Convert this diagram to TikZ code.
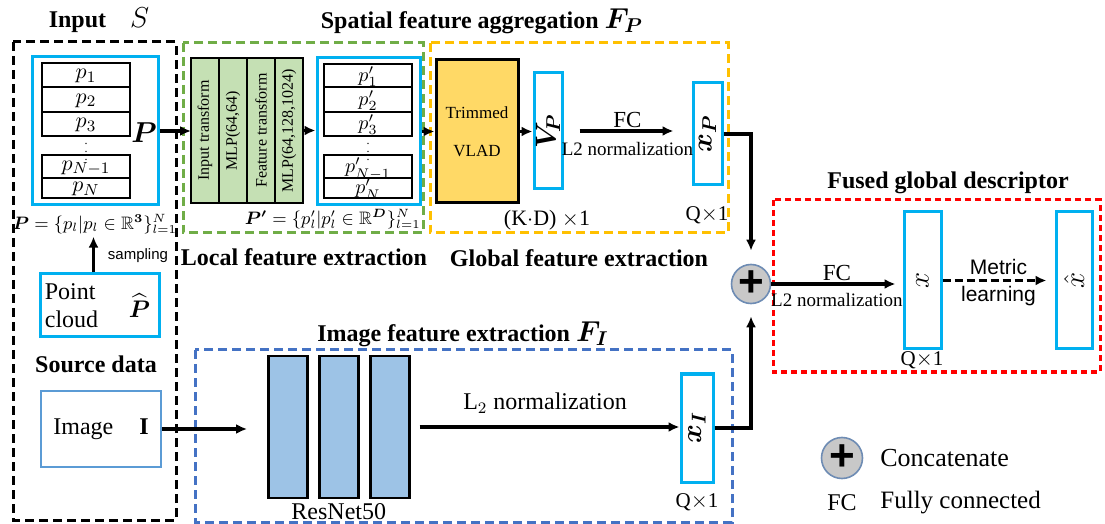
\documentclass[tikz,border=0pt]{standalone}
\usepackage{amsmath}
\usepackage{amssymb}
\usepackage{graphicx}
\usepackage{fontspec}
\setmainfont{Liberation Serif}
\setsansfont{Liberation Sans}
\usepackage{tikz}
\usetikzlibrary{arrows.meta, positioning}
\definecolor{mycyan}{RGB}{0,176,240}
\definecolor{mygreen}{RGB}{112,173,71}
\definecolor{mygreenfill}{RGB}{197,224,180}
\definecolor{myyellow}{RGB}{255,192,0}
\definecolor{myyellowfill}{RGB}{255,217,102}
\definecolor{myblue}{RGB}{68,114,196}
\definecolor{mybluefill}{RGB}{157,195,230}
\definecolor{mysteel}{RGB}{91,155,213}
\definecolor{myred}{RGB}{255,0,0}
\definecolor{mygray}{RGB}{200,200,200}
\definecolor{myring}{RGB}{110,140,180}

\tikzset{
  region/.style={line width=1.5pt, dash pattern=on 4.5pt off 2.5pt},
  vecbox/.style={draw=mycyan, line width=1.5pt, inner sep=0pt},
  cell/.style={draw, line width=1pt, minimum width=44pt, inner sep=0pt, outer sep=0pt, text height=6pt, text depth=2pt, font=\fontsize{11}{11}\selectfont},
  pcell/.style={cell, text height=7.5pt, text depth=1.5pt, font=\fontsize{10}{10}\selectfont},
  mlp/.style={draw, line width=1.3pt, fill=mygreenfill, minimum width=14pt, minimum height=72.5pt, inner sep=0pt, outer sep=0pt, font=\fontsize{8}{8}\selectfont},
  resblock/.style={draw, line width=1.4pt, fill=mybluefill, minimum width=19.5pt, minimum height=71pt, inner sep=0pt},
  flow/.style={-{Latex[length=5.5pt,width=5pt]}, line width=1.7pt},
  heading/.style={font=\fontsize{12}{14}\selectfont\bfseries},
  lab/.style={inner sep=1pt, font=\fontsize{11}{13}\selectfont},
  concat/.style={circle, draw=myring, line width=0.8pt, fill=mygray, inner sep=0pt, font=\fontsize{22}{22}\selectfont\sffamily\bfseries}
}

\begin{document}
\begin{tikzpicture}[x=0.5pt, y=-0.5pt]
    \path[use as bounding box, fill=white] (0,0) rectangle (1105,524);

    % Input S
    \node[heading] (intitle) at (99,20) {Input\quad{\fontsize{15}{15}\selectfont$S$}};
    \draw[region] (13,42) rectangle (176,520);
    \node[vecbox, minimum width=63pt, minimum height=74pt] (pcol) at (95,131) {};
    \node[cell, minimum height=12pt] (p1) at (86,75) {$p_1$};
    \node[cell, minimum height=12.5pt, below=0pt of p1] (p2) {$p_2$};
    \node[cell, minimum height=12pt, below=0pt of p2] (p3) {$p_3$};
    \node[inner sep=0pt, font=\fontsize{6}{6}\selectfont] (pdots) at (86,146) {$\vdots$};
    \node[cell, minimum height=11.5pt] (pn1) at (86,166.5) {$p_{N-1}$};
    \node[cell, minimum height=10pt, below=0pt of pn1] (pn) {$p_N$};
    \node[inner sep=1pt, font=\fontsize{14}{14}\selectfont] (plab) at (144,133) {$\boldsymbol{P}$};
    \node[inner sep=1pt, font=\fontsize{9}{11}\selectfont] (pset) at (95,224) {$\boldsymbol{P}=\{p_l|p_l\in\mathbb{R}^{\boldsymbol{3}}\}_{l=1}^{N}$};

    % Source data
    \node[vecbox, minimum width=59.5pt, minimum height=31.5pt] (cloud) at (99.5,305.5) {};
    \node[anchor=west, align=left, inner sep=3pt, font=\fontsize{12}{14}\selectfont] (cloudtxt) at (cloud.west) {Point\\cloud};
    \node[anchor=east, inner sep=1pt, font=\fontsize{13}{13}\selectfont] (phat) at ([xshift=-4pt]cloud.east) {$\widehat{\boldsymbol{P}}$};
    \draw[flow] ([xshift=-3pt]cloud.north) -- ([xshift=-3pt]cloud.north |- pset.south);
    \node[font=\sffamily\fontsize{7.5}{9}\selectfont] (samp) at (138,256) {sampling};
    \node[heading] (srctitle) at (96,364) {Source data};
    \node[draw=mysteel, line width=1.4pt, minimum width=60pt, minimum height=38pt, font=\fontsize{12}{14}\selectfont] (img) at (101,429) {Image\hspace{13pt}\textbf{I}};

    % Local feature extraction
    \draw[region, mygreen] (183,43) rectangle (423,233);
    \node[mlp] (m1) at (205,130.5) {\rotatebox{90}{Input transform}};
    \node[mlp, right=0pt of m1] (m2) {\rotatebox{90}{MLP(64,64)}};
    \node[mlp, right=0pt of m2] (m3) {\rotatebox{90}{Feature transform}};
    \node[mlp, right=0pt of m3] (m4) {\rotatebox{90}{MLP(64,128,1024)}};
    \draw[flow] (pcol.east) -- (pcol.east -| m1.west);
    \node[vecbox, minimum width=51.5pt, minimum height=73.5pt] (qcol) at (368.5,131.5) {};
    \node[pcell, minimum height=11.5pt] (q1) at (368,75.5) {$p'_1$};
    \node[pcell, minimum height=12.5pt, below=0pt of q1] (q2) {$p'_2$};
    \node[pcell, minimum height=12pt, below=0pt of q2] (q3) {$p'_3$};
    \node[inner sep=0pt, font=\fontsize{6}{6}\selectfont] (qdots) at (368,146) {$\vdots$};
    \node[pcell, minimum height=11.5pt] (qn1) at (368,166.5) {$p'_{N-1}$};
    \node[pcell, minimum height=10pt, below=0pt of qn1] (qn) {$p'_N$};
    \draw[flow] (m4.east) -- (m4.east -| qcol.west);
    \node[anchor=east, inner sep=1pt, font=\fontsize{9}{11}\selectfont] (qset) at (423,219) {$\boldsymbol{P'}=\{p'_l|p'_l\in\mathbb{R}^{\boldsymbol{D}}\}_{l=1}^{N}$};
    \node[heading] (loctitle) at (304,257) {Local feature extraction};

    % Global feature extraction
    \node[heading] (spatitle) at (482,21) {Spatial feature aggregation {\fontsize{14}{14}\selectfont$\boldsymbol{F_P}$}};
    \draw[region, myyellow] (430,43) rectangle (728,233);
    \node[draw, line width=1.5pt, fill=myyellowfill, minimum width=41pt, minimum height=71.5pt, align=center, font=\fontsize{8.5}{19}\selectfont] (vlad) at (477,131.5) {Trimmed\\VLAD};
    \draw[flow] (qcol.east) -- (qcol.east -| vlad.west);
    \node[vecbox, minimum width=14pt, minimum height=58pt] (vp) at (548,131) {\rotatebox{90}{\fontsize{14}{14}\selectfont$\boldsymbol{V_{\!P}}$}};
    \draw[flow] (vlad.east) -- (vlad.east -| vp.west);
    \node[lab] (kd) at (547,220) {(K$\cdot$D) $\times$1};
    \node[vecbox, minimum width=14.5pt, minimum height=51pt] (xp) at (707.5,134) {\rotatebox{90}{\fontsize{14}{14}\selectfont$\boldsymbol{x_P}$}};
    \draw[flow, shorten <=8pt, shorten >=9pt] (vp.east) -- node[lab, above=0pt, font=\fontsize{11.5}{13}\selectfont] {FC} node[lab, below=4pt, font=\fontsize{9.5}{11}\selectfont] {L2 normalization} (vp.east -| xp.west);
    \node[lab, font=\fontsize{10.5}{12}\selectfont] (qp) at (707,215) {Q$\times$1};
    \node[heading] (globtitle) at (579,258) {Global feature extraction};

    % Concatenation
    \node[concat, minimum size=19.5pt] (plus) at (751,284) {+};
    \draw[flow, shorten >=6.5pt] (xp.east) -| (plus.north);

    % Image feature extraction
    \node[heading] (imgtitle) at (463,334) {Image feature extraction {\fontsize{14}{14}\selectfont$\boldsymbol{F_I}$}};
    \draw[region, myblue] (195,350) rectangle (732,522);
    \node[resblock] (r1) at (288,427) {};
    \node[resblock, right=4.5pt of r1] (r2) {};
    \node[resblock, right=4.5pt of r2] (r3) {};
    \node[inner sep=2pt, below=0pt of r2, font=\fontsize{12}{14}\selectfont] (resname) {ResNet50};
    \draw[flow, shorten >=10pt] (img.east) -- (img.east -| r1.west);
    \node[vecbox, minimum width=16pt, minimum height=54pt] (xi) at (697,428) {\rotatebox{90}{\fontsize{14}{14}\selectfont$\boldsymbol{x_I}$}};
    \draw[flow, shorten <=4.5pt] (r3.east) -- node[lab, above=5pt, font=\fontsize{12}{14}\selectfont] {L$_2$ normalization} (r3.east -| xi.west);
    \node[lab, font=\fontsize{10.5}{12}\selectfont] (qi) at (697,502) {Q$\times$1};
    \draw[flow, shorten >=6pt] (xi.east) -| (plus.south);

    % Fused global descriptor
    \node[heading] (fustitle) at (948,183) {Fused global descriptor};
    \draw[region, myred, dash pattern=on 3pt off 2pt] (773,200) rectangle (1100,372);
    \node[vecbox, minimum width=18.5pt, minimum height=68.5pt] (xf) at (922.5,280.5) {\rotatebox{90}{\fontsize{14}{14}\selectfont$x$}};
    \node[lab, font=\fontsize{10.5}{12}\selectfont] (qf) at (922,360) {Q$\times$1};
    \draw[flow, shorten >=3.5pt] (plus) -- node[lab, above=0pt, font=\fontsize{11.5}{13}\selectfont] {FC} node[lab, below=3pt, font=\fontsize{9.5}{11}\selectfont] {L2 normalization} (plus -| xf.west);
    \node[vecbox, minimum width=18pt, minimum height=68.5pt] (xh) at (1074,280.5) {\rotatebox{90}{\fontsize{14}{14}\selectfont$\hat{x}$}};
    \draw[flow, dash pattern=on 4pt off 2pt, shorten >=4pt] (xf.east) -- node[lab, above=1pt, font=\sffamily\fontsize{10.5}{12}\selectfont] {Metric} node[lab, below=1pt, font=\sffamily\fontsize{10.5}{12}\selectfont] {learning} (xf.east -| xh.west);

    % Legend
    \node[concat, minimum size=20.5pt] (lplus) at (842,458) {+};
    \node[anchor=west, inner sep=0pt, font=\fontsize{13}{15}\selectfont] (lcat) at (880,458) {Concatenate};
    \node[font=\rmfamily\fontsize{12}{14}\selectfont] (lfc) at (842,503) {FC};
    \node[anchor=west, inner sep=0pt, font=\fontsize{12.5}{15}\selectfont] (lfull) at (880,503) {Fully connected};
\end{tikzpicture}
\end{document}
